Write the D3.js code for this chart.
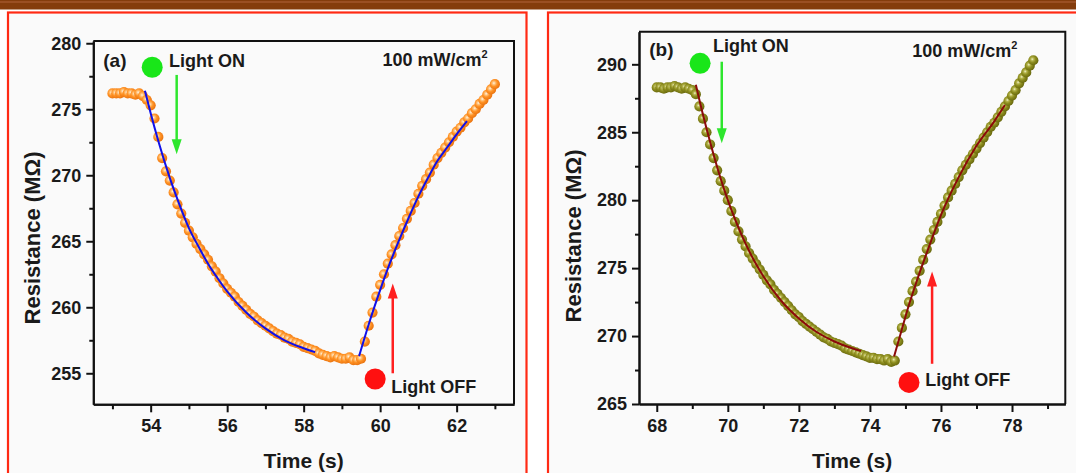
<!DOCTYPE html>
<html><head><meta charset="utf-8">
<script src="https://cdn.jsdelivr.net/npm/d3@7"></script>
<style>
html,body{margin:0;padding:0;background:#fff;}
svg{display:block;font-family:"Liberation Sans",Arial,sans-serif;}
</style></head><body>
<svg id="c" width="1076" height="473"></svg>
<script>
// ---------- Panel (a) data ----------
const timeA = [53.0,53.1,53.2,53.3,53.4,53.5,53.6,53.7,53.8,53.9,
  54.0,54.1,54.2,54.3,54.4,54.5,54.6,54.7,54.8,54.9,
  55.0,55.1,55.2,55.3,55.4,55.5,55.6,55.7,55.8,55.9,
  56.0,56.1,56.2,56.3,56.4,56.5,56.6,56.7,56.8,56.9,
  57.0,57.1,57.2,57.3,57.4,57.5,57.6,57.7,57.8,57.9,
  58.0,58.1,58.2,58.3,58.4,58.5,58.6,58.7,58.8,58.9,
  59.0,59.1,59.2,59.3,59.4,59.5,59.6,59.7,59.8,59.9,
  60.0,60.1,60.2,60.3,60.4,60.5,60.6,60.7,60.8,60.9,
  61.0,61.1,61.2,61.3,61.4,61.5,61.6,61.7,61.8,61.9,
  62.0,62.1,62.2,62.3,62.4,62.5,62.6,62.7,62.8,62.9,63.0];
const resA = [276.2,276.2,276.2,276.3,276.2,276.2,276.1,276.2,276.0,275.7,
  275.3,274.3,272.9,271.3,270.3,269.6,268.7,267.8,267.1,266.4,
  265.8,265.3,264.8,264.4,264.0,263.6,263.1,262.7,262.2,261.8,
  261.4,261.1,260.8,260.4,260.1,259.8,259.5,259.3,259.0,258.8,
  258.6,258.4,258.2,258.0,257.9,257.7,257.6,257.4,257.3,257.2,
  257.0,256.9,256.8,256.7,256.5,256.4,256.3,256.2,256.3,256.2,
  256.1,256.1,256.2,256.0,256.0,256.1,257.4,258.6,259.6,260.8,
  261.7,262.5,263.3,264.0,264.7,265.4,266.0,266.7,267.3,267.9,
  268.6,269.2,269.7,270.2,270.8,271.3,271.7,272.1,272.5,272.9,
  273.3,273.6,274.0,274.3,274.7,275.0,275.4,275.7,276.1,276.5,276.9];
const fitDecayTimeA = [53.85,54.0,54.2,54.5,54.75,55.0,55.25,55.5,55.75,56.0,56.5,57.0,57.5,58.0,58.3];
const fitDecayA     = [276.4,274.7,272.6,269.8,267.8,266.0,264.6,263.3,262.2,261.2,259.6,258.4,257.5,256.9,256.6];
const fitRiseTimeA  = [59.45,59.7,60.0,60.25,60.5,60.75,61.0,61.25,61.5,61.75,62.0,62.27];
const fitRiseA      = [256.3,258.7,261.3,263.3,265.1,266.8,268.4,269.8,271.1,272.1,273.1,274.1];
const yTicksA = [255,260,265,270,275,280];
const yMinorA = [257.5,262.5,267.5,272.5,277.5];
const xTicksA = [54,56,58,60,62];
const xMinorA = [53,55,57,59,61,63];

// ---------- Panel (b) data ----------
const timeB = [68.0,68.1,68.2,68.3,68.4,68.5,68.6,68.7,68.8,68.9,
  69.0,69.1,69.2,69.3,69.4,69.5,69.6,69.7,69.8,69.9,
  70.0,70.1,70.2,70.3,70.4,70.5,70.6,70.7,70.8,70.9,
  71.0,71.1,71.2,71.3,71.4,71.5,71.6,71.7,71.8,71.9,
  72.0,72.1,72.2,72.3,72.4,72.5,72.6,72.7,72.8,72.9,
  73.0,73.1,73.2,73.3,73.4,73.5,73.6,73.7,73.8,73.9,
  74.0,74.1,74.2,74.3,74.4,74.5,74.6,74.7,74.8,74.9,
  75.0,75.1,75.2,75.3,75.4,75.5,75.6,75.7,75.8,75.9,
  76.0,76.1,76.2,76.3,76.4,76.5,76.6,76.7,76.8,76.9,
  77.0,77.1,77.2,77.3,77.4,77.5,77.6,77.7,77.8,77.9,
  78.0,78.1,78.2,78.3,78.4,78.5,78.6];
const resB = [288.3,288.3,288.2,288.3,288.3,288.4,288.3,288.2,288.3,288.2,
  288.1,287.8,286.9,286.0,285.0,284.1,283.1,282.2,281.4,280.7,
  280.0,279.2,278.4,277.7,277.1,276.6,276.1,275.7,275.3,274.9,
  274.5,274.1,273.8,273.4,273.1,272.8,272.5,272.2,271.9,271.6,
  271.4,271.1,270.9,270.7,270.5,270.3,270.1,269.9,269.8,269.6,
  269.5,269.4,269.3,269.1,269.0,268.9,268.8,268.7,268.6,268.5,
  268.4,268.4,268.3,268.3,268.2,268.3,268.1,268.2,269.6,270.6,
  271.6,272.5,273.3,274.0,274.8,275.6,276.4,277.1,277.8,278.4,
  279.0,279.6,280.2,280.7,281.2,281.7,282.2,282.6,283.0,283.4,
  283.8,284.2,284.6,285.0,285.4,285.7,286.1,286.5,286.9,287.3,
  287.7,288.1,288.6,289.0,289.4,289.9,290.3];
const fitDecayTimeB = [69.1,69.3,69.5,69.75,70.0,70.25,70.5,70.75,71.0,71.5,72.0,72.5,73.0,73.5,73.75];
const fitDecayB     = [288.5,286.3,284.3,282.0,280.0,278.3,276.8,275.5,274.4,272.6,271.3,270.3,269.6,269.1,268.9];
const fitRiseTimeB  = [74.68,74.9,75.1,75.3,75.5,75.75,76.0,76.5,77.0,77.5,77.8];
const fitRiseB      = [268.5,270.5,272.3,273.9,275.4,277.2,278.9,281.7,284.0,285.8,287.0];
const yTicksB = [265,270,275,280,285,290];
const yMinorB = [267.5,272.5,277.5,282.5,287.5];
const xTicksB = [68,70,72,74,76,78];
const xMinorB = [69,71,73,75,77,79];

const svg = d3.select("#c");
const FONT = "'Liberation Sans', Arial, sans-serif";

// header bar
svg.append("rect").attr("x",0).attr("y",0).attr("width",1076).attr("height",9.5).attr("fill","#843c0c");
svg.append("line").attr("x1",0).attr("x2",1076).attr("y1",2).attr("y2",2).attr("stroke","#b0623a").attr("stroke-width",1);

// panel frames
svg.append("rect").attr("x",8).attr("y",12.5).attr("width",518.5).attr("height",480)
  .attr("fill","#fafafa").attr("stroke","#ff2a14").attr("stroke-width",2.2);
svg.append("rect").attr("x",548).attr("y",12.5).attr("width",540).attr("height",480)
  .attr("fill","#fafafa").attr("stroke","#ff2a14").attr("stroke-width",2.2);

// gradients
const defs = svg.append("defs");
function grad(id, stops){
  const g = defs.append("radialGradient").attr("id",id).attr("cx","40%").attr("cy","40%").attr("r","60%");
  stops.forEach(s=>g.append("stop").attr("offset",s[0]).attr("stop-color",s[1]));
}
grad("gOrange",[["0%","#fff4e2"],["25%","#ffc27a"],["55%","#ff9224"],["100%","#ea7410"]]);
grad("gOlive",[["0%","#efefc8"],["25%","#b4b44c"],["55%","#8c8c1e"],["100%","#6a6a0e"]]);

function drawPanel(cfg){
  const x = d3.scaleLinear().domain(cfg.xDom).range([cfg.left, cfg.right]);
  const y = d3.scaleLinear().domain(cfg.yDom).range([cfg.bottom, cfg.top]);
  const g = svg.append("g");

  g.append("rect").attr("x",cfg.left).attr("y",cfg.top).attr("width",cfg.right-cfg.left)
   .attr("height",cfg.bottom-cfg.top).attr("fill","#fafafa");

  const xAx = g.append("g").attr("transform",`translate(0,${cfg.bottom})`)
    .call(d3.axisBottom(x).tickValues(cfg.xTicks).tickSize(8).tickSizeOuter(0).tickPadding(7).tickFormat(d3.format("d")));
  const xMin = g.append("g").attr("transform",`translate(0,${cfg.bottom})`)
    .call(d3.axisBottom(x).tickValues(cfg.xMinor).tickSize(5).tickSizeOuter(0).tickFormat(""));
  const yAx = g.append("g").attr("transform",`translate(${cfg.left},0)`)
    .call(d3.axisLeft(y).tickValues(cfg.yTicks).tickSize(7).tickSizeOuter(0).tickPadding(5).tickFormat(d3.format("d")));
  const yMin = g.append("g").attr("transform",`translate(${cfg.left},0)`)
    .call(d3.axisLeft(y).tickValues(cfg.yMinor).tickSize(4).tickSizeOuter(0).tickFormat(""));
  [xAx,xMin,yAx,yMin].forEach(a=>{
    a.selectAll("path").attr("stroke","#111").attr("stroke-width",2);
    a.selectAll("line").attr("stroke","#111").attr("stroke-width",2);
    a.selectAll("text").attr("font-family",FONT).attr("font-weight","bold")
      .attr("font-size",18).attr("fill","#1a1a1a");
  });
  g.append("path").attr("d",`M${cfg.left},${cfg.top}H${cfg.right}V${cfg.bottom}`)
    .attr("fill","none").attr("stroke","#111").attr("stroke-width",2);

  g.selectAll("circle.pt").data(cfg.time.map((t,i)=>[t,cfg.res[i]])).enter()
    .append("circle").attr("class","pt")
    .attr("cx",d=>x(d[0])).attr("cy",d=>y(d[1])).attr("r",5.1)
    .attr("fill",`url(#${cfg.grad})`);

  const line = d3.line().x(d=>x(d[0])).y(d=>y(d[1])).curve(d3.curveMonotoneX);
  [[cfg.fdT,cfg.fd],[cfg.frT,cfg.fr]].forEach(([tt,vv])=>{
    g.append("path").attr("d",line(tt.map((t,i)=>[t,vv[i]])))
      .attr("fill","none").attr("stroke",cfg.fitColor).attr("stroke-width",2);
  });

  const A = cfg.ann;
  g.append("text").attr("x",x(A.lab[0])).attr("y",y(A.lab[1])).text(cfg.label)
    .attr("font-family",FONT).attr("font-weight","bold").attr("font-size",19).attr("fill","#1a1a1a");
  g.append("circle").attr("cx",x(A.gdot[0])).attr("cy",y(A.gdot[1])).attr("r",10.5).attr("fill","#19e619");
  g.append("text").attr("x",x(A.on[0])).attr("y",y(A.on[1])).text("Light ON")
    .attr("font-family",FONT).attr("font-weight","bold").attr("font-size",18).attr("fill","#1a1a1a");
  const gx = x(A.garrow[0]), gy1 = y(A.garrow[1]), gy2 = y(A.garrow[2]);
  g.append("line").attr("x1",gx).attr("x2",gx).attr("y1",gy1).attr("y2",gy2-12)
    .attr("stroke","#2ee62e").attr("stroke-width",2.5);
  g.append("path").attr("d",`M${gx-5},${gy2-15}L${gx+5},${gy2-15}L${gx},${gy2}Z`).attr("fill","#2ee62e");

  const pw = g.append("text").attr("x",x(A.pw[0])).attr("y",y(A.pw[1]))
    .attr("font-family",FONT).attr("font-weight","bold").attr("font-size",18).attr("fill","#1a1a1a");
  pw.append("tspan").text("100 mW/cm");
  pw.append("tspan").text("2").attr("font-size",11).attr("dy",-8);

  g.append("circle").attr("cx",x(A.rdot[0])).attr("cy",y(A.rdot[1])).attr("r",10.5).attr("fill","#ff1010");
  g.append("text").attr("x",x(A.off[0])).attr("y",y(A.off[1])).text("Light OFF")
    .attr("font-family",FONT).attr("font-weight","bold").attr("font-size",18).attr("fill","#1a1a1a");
  const rx = x(A.rarrow[0]), ry1 = y(A.rarrow[1]), ry2 = y(A.rarrow[2]);
  g.append("line").attr("x1",rx).attr("x2",rx).attr("y1",ry1).attr("y2",ry2+12)
    .attr("stroke","#ff2020").attr("stroke-width",2.5);
  g.append("path").attr("d",`M${rx-5},${ry2+15}L${rx+5},${ry2+15}L${rx},${ry2}Z`).attr("fill","#ff2020");

  g.append("text").attr("transform",`translate(${cfg.yTitleX},${cfg.yTitleY}) rotate(-90)`)
    .attr("text-anchor","middle").text("Resistance (MΩ)")
    .attr("font-family",FONT).attr("font-weight","bold").attr("font-size",22).attr("fill","#1a1a1a");
  g.append("text").attr("x",(cfg.left+cfg.right)/2).attr("y",467.5).attr("text-anchor","middle").text("Time (s)")
    .attr("font-family",FONT).attr("font-weight","bold").attr("font-size",21).attr("fill","#1a1a1a");
}

drawPanel({
  left:93.3, right:514, top:41, bottom:404.3,
  xDom:[52.5,63.5], yDom:[252.65,280.17],
  xTicks:xTicksA, xMinor:xMinorA, yTicks:yTicksA, yMinor:yMinorA,
  time:timeA, res:resA, grad:"gOrange",
  fdT:fitDecayTimeA, fd:fitDecayA, frT:fitRiseTimeA, fr:fitRiseA, fitColor:"#1010e8",
  label:"(a)", yTitleX:40, yTitleY:238,
  ann:{lab:[52.76,278.2], gdot:[54.04,278.18], on:[54.48,278.2], garrow:[54.68,277.6,271.6],
       pw:[60.06,278.3], rdot:[59.87,254.57], off:[60.29,253.5], rarrow:[60.33,255.0,261.8]}
});
drawPanel({
  left:639, right:1065.3, top:31.7, bottom:404,
  xDom:[67.5,79.5], yDom:[265.0,292.4],
  xTicks:xTicksB, xMinor:xMinorB, yTicks:yTicksB, yMinor:yMinorB,
  time:timeB, res:resB, grad:"gOlive",
  fdT:fitDecayTimeB, fd:fitDecayB, frT:fitRiseTimeB, fr:fitRiseB, fitColor:"#8b0a0a",
  label:"(b)", yTitleX:581, yTitleY:236,
  ann:{lab:[67.79,290.6], gdot:[69.22,290.07], on:[69.58,290.93], garrow:[69.83,290.19,284.19],
       pw:[75.19,290.57], rdot:[75.1,266.59], off:[75.56,266.29], rarrow:[75.75,267.96,274.75]}
});
</script>
</body></html>
